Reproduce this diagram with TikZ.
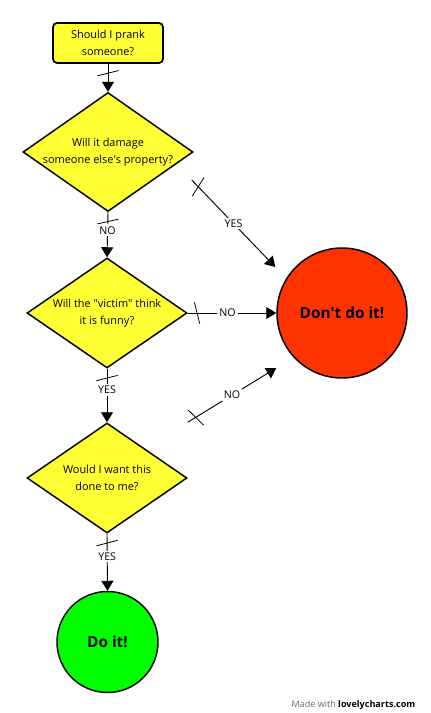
\documentclass[tikz,border=0pt]{standalone}
\usepackage{fontspec}
\setmainfont{Open Sans}
\usepackage{xcolor}
\usepackage{tikz}
\usetikzlibrary{arrows.meta}
\usetikzlibrary{calc,shapes.geometric,decorations.markings}

\definecolor{askyellow}{HTML}{FFFF33}
\definecolor{dontred}{HTML}{FF3300}
\definecolor{doitgreen}{HTML}{00FF00}

\tikzset{
  startbox/.style={draw, line width=1.3pt, fill=askyellow, rounded corners=3pt,
    minimum width=82.5pt, minimum height=30pt, align=center},
  question/.style={diamond, draw, line width=1.1pt, fill=askyellow, inner sep=0pt},
  answer/.style={circle, draw, line width=1.1pt, inner sep=0pt,
    font=\fontsize{11.5}{14}\selectfont\bfseries},
  link/.style={line width=0.7pt, -{Triangle[length=7.5pt,width=9pt]},
    postaction={decorate}, decoration={markings, mark=at position 7pt with
      {\draw[-, line width=0.6pt] (2pt,-8pt) -- (-2pt,8pt);}}},
  ans/.style={fill=white, inner sep=1.5pt, font=\fontsize{8}{10}\selectfont}
}

\begin{document}
\begin{tikzpicture}[x=0.75pt, y=-0.75pt, font=\fontsize{8.2}{12.5}\selectfont]
  \useasboundingbox (0,0) rectangle (430,713);
  \node[startbox] (prank) at (108,43) {Should I prank\\someone?};
  \node[question, minimum width=127.5pt, minimum height=89.25pt,
    label={[align=center]center:{Will it damage\\someone else\textquotesingle s property?}}] (damage) at (108,152) {};
  \node[question, minimum width=120pt, minimum height=82.5pt,
    label={[align=center]center:{Will the \textquotedbl victim\textquotedbl{} think\\it is funny?}}] (victim) at (107,313) {};
  \node[question, minimum width=120pt, minimum height=82.5pt,
    label={[align=center]center:{Would I want this\\done to me?}}] (mine) at (107,478) {};
  \node[answer, fill=dontred, minimum size=97.5pt] (dont) at (342,313) {Don\textquotesingle t do it!};
  \node[answer, fill=doitgreen, minimum size=75.75pt] (doit) at (107.5,642) {Do it!};

  % connectors
  \draw[link] (prank.south) -- (damage.north);
  \draw[link] (damage.south) -- node[ans, pos=0.4] {NO} (victim.north);
  \draw[link] ($(damage.east)+(-2,28)$) -- node[ans] {YES} ($(dont.west)+(-1,-46)$);
  \draw[link] (victim.east) -- node[ans, pos=0.45] {NO} (dont.west);
  \draw[link] (victim.south) -- node[ans, pos=0.4] {YES} (mine.north);
  \draw[link] (mine.north -| mine.east) -- node[ans] {NO} ($(dont.west)+(0,55)$);
  \draw[link] (mine.south) -- node[ans, pos=0.4] {YES} (doit.north);

  \node[anchor=base east, font=\fontsize{6.8}{8}\selectfont] (credit) at (420,707)
    {\textcolor{black!60}{Made with} \textbf{lovelycharts.com}};
\end{tikzpicture}
\end{document}
